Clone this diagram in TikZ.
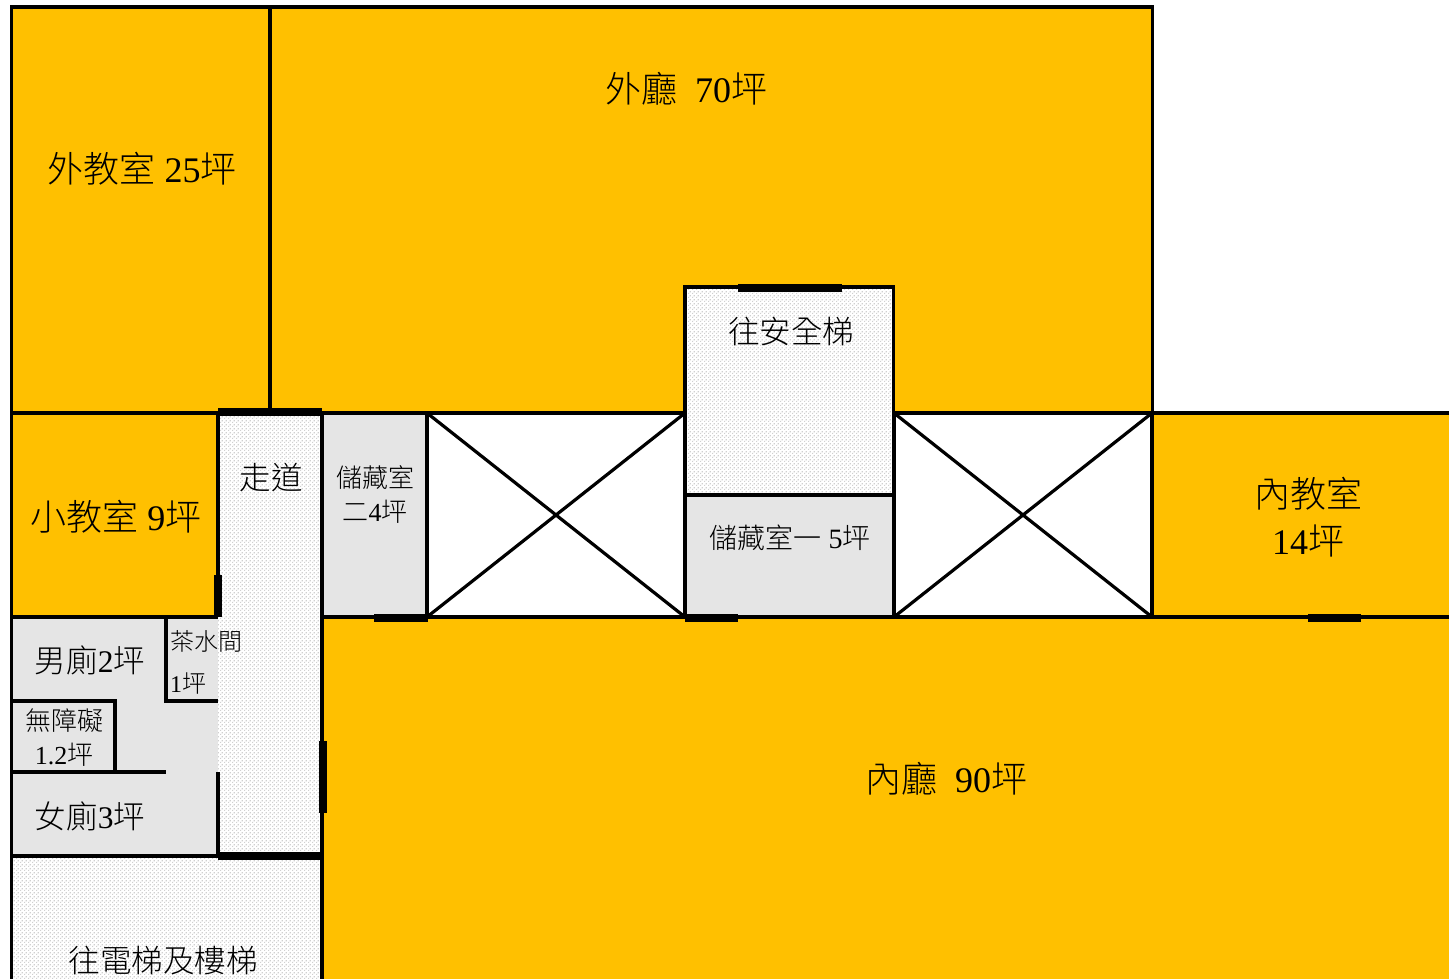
\documentclass[tikz,border=0pt]{standalone}
\usepackage{fontspec}
\usepackage{xcolor}
\setmainfont{Liberation Serif}
\newfontfamily\cjk{Noto Sans CJK TC Light}
\definecolor{hallorange}{HTML}{FFC000}
\definecolor{roomgray}{HTML}{E5E5E5}
\definecolor{dotgray}{HTML}{D0D0D0}
\usetikzlibrary{positioning,calc,patterns}
\pgfdeclarepatternformonly{passdots}{\pgfpointorigin}{\pgfqpoint{4pt}{4pt}}{\pgfqpoint{4pt}{4pt}}{
    \pgfpathrectangle{\pgfqpoint{0pt}{0pt}}{\pgfqpoint{1.5pt}{1.5pt}}
    \pgfpathrectangle{\pgfqpoint{2pt}{2pt}}{\pgfqpoint{1.5pt}{1.5pt}}
    \pgfusepath{fill}
}
\tikzset{
    wall/.style={line width=3.2pt},
    door/.style={line width=8pt},
    hall/.style={fill=hallorange,draw=black,wall},
    store/.style={fill=roomgray,draw=black,wall},
    passfill/.style={preaction={fill=white},pattern=passdots,pattern color=dotgray},
    biglabel/.style={font=\fontsize{36}{47}\selectfont,align=center,inner sep=0pt},
    midlabel/.style={font=\fontsize{31.5}{36}\selectfont,align=center,inner sep=0pt},
    smalllabel/.style={font=\fontsize{26}{34}\selectfont,align=center,inner sep=0pt}
}
\newcommand{\ping}{{\cjk 坪}}
\begin{document}
\begin{tikzpicture}[x=1pt,y=-1pt]
    \useasboundingbox (0,0) rectangle (1449,978);
    \fill[white] (0,0) rectangle (1449,978);
    % Orange rooms
    \draw[hall] (11.5,7) rectangle (270,413); % Outer classroom
    \draw[hall] (270,7) rectangle (1152.5,413); % Outer hall
    \draw[hall] (11.5,413) rectangle (218,617); % Small classroom
    \draw[hall] (1152.5,413) -- (1452,413) -- (1452,617) -- (1152.5,617) -- cycle; % Inner classroom
    \draw[hall] (322,617) -- (1452,617) -- (1452,982) -- (322,982) -- cycle; % Inner hall
    % Voids
    \foreach \x/\w in {427/258, 894/258} {
        \draw[wall,fill=white] (\x,413) rectangle (\x+\w,617);
        \draw[wall] (\x,413) -- (\x+\w,617);
        \draw[wall] (\x,617) -- (\x+\w,413);
    }
    % Stair and store rooms
    \draw[passfill,wall] (685,287) rectangle (893.5,495);
    \draw[store] (685,495) rectangle (893.5,617);
    \draw[store] (322,413) rectangle (427,617);
    % Toilets
    \fill[roomgray] (11.5,617) rectangle (218,856);
    \draw[wall] (11.5,617) -- (218,617);
    \draw[wall] (11.5,617) -- (11.5,856);
    \draw[wall] (166,617) -- (166,701) -- (218,701);
    \draw[wall] (11.5,701) -- (115,701) -- (115,772);
    \draw[wall] (11.5,772) -- (166,772);
    % Corridor and lift lobby
    \fill[passfill] (218,413) rectangle (322,856);
    \draw[wall] (218,413) -- (218,617);
    \draw[wall] (218,772) -- (218,856);
    \draw[wall] (322,413) -- (322,982);
    \draw[passfill,wall] (11.5,856) -- (322,856) -- (322,982) -- (11.5,982) -- cycle;
    % Doors
    \draw[door] (218,412) -- (322,412);
    \draw[door] (218,575) -- (218,617);
    \draw[door] (374,618) -- (428,618);
    \draw[door] (685,618) -- (738,618);
    \draw[door] (1308,618) -- (1361,618);
    \draw[door] (738,288) -- (842,288);
    \draw[door] (323,741) -- (323,813);
    \draw[door] (218,856) -- (322,856);
    % Labels
    \node[biglabel] (outerhall) at (686,89) {{\cjk 外廳}\ \ 70\ping};
    \node[biglabel] (outerroom) at (142,169) {{\cjk 外教室} 25\ping};
    \node[biglabel] (smallroom) at (116,517) {{\cjk 小教室} 9\ping};
    \node[biglabel] (innerroom) at (1308,517) {{\cjk 內教室}\\14\ping};
    \node[biglabel] (innerhall) at (946,779) {{\cjk 內廳}\ \ 90\ping};
    \node[midlabel] (safestair) at (791,331) {{\cjk 往安全梯}};
    \node[midlabel,font=\fontsize{28}{34}\selectfont] (storeone) at (790,538) {{\cjk 儲藏室一} 5\ping};
    \node[smalllabel] (storetwo) at (375,495) {{\cjk 儲藏室}\\{\cjk 二}4\ping};
    \node[midlabel] (corridor) at (271,478) {{\cjk 走道}};
    \node[midlabel] (mensroom) at (90,660) {{\cjk 男廁}2\ping};
    \node[midlabel] (womensroom) at (90,816) {{\cjk 女廁}3\ping};
    \node[smalllabel] (access) at (64,738) {{\cjk 無障礙}\\1.2\ping};
    \node[smalllabel,font=\fontsize{24}{32}\selectfont] (teaname) at (206,641) {{\cjk 茶水間}};
    \node[smalllabel,font=\fontsize{24}{32}\selectfont] (teasize) at (188,683) {1\ping};
    \node[midlabel] (liftlobby) at (163,961) {{\cjk 往電梯及樓梯}};
\end{tikzpicture}
\end{document}
